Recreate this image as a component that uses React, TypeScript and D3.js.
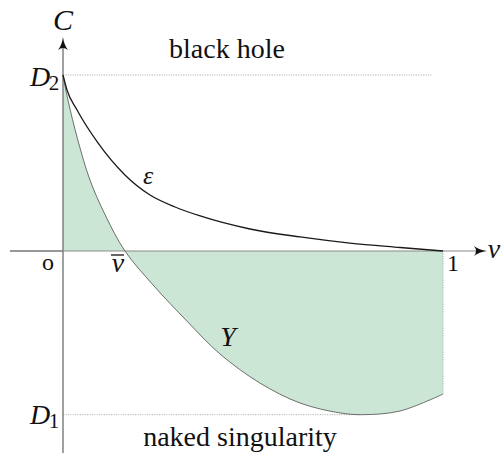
import React from 'react';
import * as d3 from 'd3';

// v on the horizontal axis, C on the vertical one
const epsV = [0, 0.0105, 0.037, 0.092, 0.163, 0.229, 0.295, 0.361, 0.492, 0.624, 0.755, 0.887, 1];
const epsC = [1, 0.915, 0.801, 0.614, 0.432, 0.318, 0.250, 0.199, 0.125, 0.080, 0.045, 0.02, 0];

const yV = [0, 0.013, 0.039, 0.071, 0.111, 0.163, 0.237, 0.326, 0.413, 0.518, 0.624, 0.729, 0.789, 0.887, 1];
const yC = [1, 0.858, 0.631, 0.403, 0.205, 0, -0.193, -0.398, -0.585, -0.75, -0.864, -0.92, -0.93, -0.909, -0.813];

const D2 = 1;
const D1 = -0.93;
const vBar = 0.163;

const labels = [
  { key: 'C', x: 63, y: 30, size: 30, italic: true, text: 'C' },
  { key: 'D2', x: 40, y: 86, size: 28, italic: true, text: 'D' },
  { key: 'D2s', x: 54, y: 90, size: 21, italic: false, text: '2' },
  { key: 'D1', x: 40, y: 424, size: 28, italic: true, text: 'D' },
  { key: 'D1s', x: 54, y: 428, size: 21, italic: false, text: '1' },
  { key: 'bh', x: 227, y: 58, size: 28, italic: false, text: 'black hole' },
  { key: 'ns', x: 240, y: 446, size: 28, italic: false, text: 'naked singularity' },
  { key: 'o', x: 48, y: 270, size: 24, italic: false, text: 'o' },
  { key: 'vbar', x: 118, y: 272, size: 28, italic: true, text: 'v' },
  { key: 'one', x: 453, y: 271, size: 24, italic: false, text: '1' },
  { key: 'v', x: 494, y: 258, size: 28, italic: true, text: 'v' },
  { key: 'eps', x: 148, y: 184, size: 26, italic: true, text: 'ε' },
  { key: 'Y', x: 228, y: 346, size: 28, italic: true, text: 'Y' },
];

const App = () => {
  const width = 502;
  const height = 455;

  const x = d3.scaleLinear().domain([0, 1]).range([63, 443]);
  const y = d3.scaleLinear().domain([0, 1]).range([251, 75]);

  const eps = epsV.map((v, i) => [v, epsC[i]] as [number, number]);
  const ycurve = yV.map((v, i) => [v, yC[i]] as [number, number]);

  const line = d3.line<[number, number]>()
    .x(d => x(d[0]))
    .y(d => y(d[1]))
    .curve(d3.curveCatmullRom.alpha(0.5));

  const smooth = d3.line<[number, number]>()
    .x(d => x(d[0]))
    .y(d => y(d[1]))
    .curve(d3.curveMonotoneX);

  const area = d3.area<[number, number]>()
    .x(d => x(d[0]))
    .y0(y(0))
    .y1(d => y(d[1]))
    .curve(d3.curveCatmullRom.alpha(0.5));

  const x0 = x(0);
  const yAxis0 = y(0);
  const yEnd = yC[yC.length - 1];

  return (
    <svg width={width} height={height} style={{ position: 'absolute', left: 0, top: 0 }}>
      <style>{`text { font-family: 'Liberation Serif', 'DejaVu Serif', serif; fill: #111; }`}</style>
      <path d={area(ycurve) || ''} fill="#cbe6d5" stroke="none" />

      {/* dotted guides */}
      <line x1={x0} x2={432} y1={y(D2)} y2={y(D2)} stroke="#b0b0b0" strokeWidth={1} strokeDasharray="1.2,1.2" />
      <line x1={x0} x2={x(0.78)} y1={y(D1)} y2={y(D1)} stroke="#b0b0b0" strokeWidth={1} strokeDasharray="1.2,1.2" />
      <line x1={x(1)} x2={x(1)} y1={yAxis0} y2={y(yEnd)} stroke="#b0b0b0" strokeWidth={1} strokeDasharray="1.2,1.2" />

      {/* axes */}
      <line x1={10} x2={x0} y1={yAxis0} y2={yAxis0} stroke="#333" strokeWidth={1.2} />
      <line x1={x0} x2={480} y1={yAxis0} y2={yAxis0} stroke="#8a8a8a" strokeWidth={1.2} />
      <path d={`M487,${yAxis0} Q479,${yAxis0 - 1} 474,${yAxis0 - 5} Q478,${yAxis0} 474,${yAxis0 + 5} Q479,${yAxis0 + 1} 487,${yAxis0} Z`} fill="#111" />
      <line x1={x0} x2={x0} y1={44} y2={453} stroke="#808080" strokeWidth={1.5} />
      <path d={`M${x0},37 Q${x0 + 1},45 ${x0 + 5},50 Q${x0},46 ${x0 - 5},50 Q${x0 - 1},45 ${x0},37 Z`} fill="#111" />

      {/* curves */}
      <path d={line(ycurve) || ''} fill="none" stroke="#4d4d4d" strokeWidth={0.8} />
      <path d={smooth(eps) || ''} fill="none" stroke="#1a1a1a" strokeWidth={1.3} />

      {/* labels */}
      {labels.map(l => (
        <text key={l.key} x={l.x} y={l.y} fontSize={l.size} fontStyle={l.italic ? 'italic' : 'normal'}
          textAnchor="middle" style={{ fontFamily: `'Liberation Serif'` }}>{l.text}</text>
      ))}
      <line x1={x(vBar) - 14} x2={x(vBar) - 1} y1={255} y2={255} stroke="#111" strokeWidth={1.3} />
    </svg>
  );
};

export default App;
